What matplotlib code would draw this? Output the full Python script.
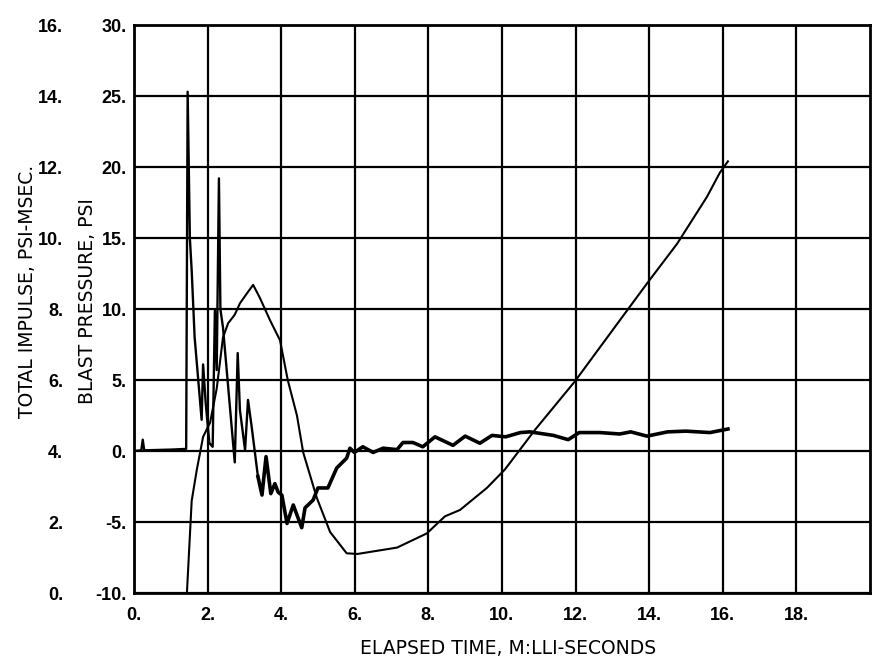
import matplotlib
matplotlib.use('Agg')
import matplotlib.pyplot as plt
from matplotlib.ticker import FixedLocator, FixedFormatter

# blast pressure trace, psi
blast_t = [0.0, 0.2, 0.24, 0.28, 1.0, 1.42, 1.46, 1.52, 1.57, 1.65, 1.84, 1.88, 1.95,
           2.05, 2.14, 2.20, 2.25, 2.31, 2.35, 2.42, 2.74, 2.82, 2.88, 3.02, 3.10, 3.20,
           3.37, 3.48, 3.59, 3.72, 3.83, 3.92, 4.02, 4.16, 4.33, 4.43, 4.56, 4.65, 4.87,
           5.0, 5.27, 5.51, 5.78, 5.87, 5.99, 6.22, 6.5, 6.77, 7.15, 7.31, 7.58, 7.85,
           8.18, 8.67, 9.0, 9.4, 9.73, 10.1, 10.5, 10.76, 11.4, 11.8, 12.1, 12.66, 13.2,
           13.5, 13.94, 14.5, 15.0, 15.65, 16.14]
blast_p = [0.0, 0.05, 0.8, 0.05, 0.1, 0.15, 25.3, 15.0, 12.7, 8.0, 2.2, 6.1, 3.4,
           0.56, 0.3, 9.9, 5.7, 19.2, 10.0, 8.7, -0.8, 6.9, 2.9, 0.07, 3.6, 1.7,
           -1.8, -3.1, -0.4, -3.0, -2.3, -2.9, -3.1, -5.1, -3.8, -4.5, -5.4, -4.0, -3.45,
           -2.6, -2.6, -1.2, -0.5, 0.2, -0.1, 0.3, -0.1, 0.2, 0.1, 0.6, 0.6, 0.3,
           1.0, 0.4, 1.05, 0.55, 1.1, 1.0, 1.3, 1.35, 1.1, 0.8, 1.3, 1.3, 1.2,
           1.35, 1.05, 1.35, 1.4, 1.3, 1.55]

# total impulse, psi-msec
imp_t = [1.44, 1.57, 1.71, 1.88, 2.07, 2.25, 2.42, 2.56, 2.74, 2.88, 3.07, 3.24, 3.42,
         3.70, 3.97, 4.18, 4.43, 4.60, 4.97, 5.33, 5.78, 6.07, 7.15, 7.96, 8.45, 8.86,
         9.59, 10.08, 10.9, 11.98, 13.4, 13.97, 14.76, 15.57, 15.92, 16.14]
imp_i = [0.0, 2.6, 3.48, 4.4, 4.8, 5.76, 7.2, 7.6, 7.84, 8.16, 8.44, 8.68, 8.32,
         7.68, 7.12, 6.0, 5.0, 3.96, 2.68, 1.72, 1.12, 1.1, 1.28, 1.68, 2.16, 2.34,
         2.96, 3.48, 4.6, 5.96, 7.96, 8.76, 9.84, 11.16, 11.84, 12.16]

x_ticks = [0, 2, 4, 6, 8, 10, 12, 14, 16, 18]
p_ticks = [-10, -5, 0, 5, 10, 15, 20, 25, 30]
i_ticks = [0, 2, 4, 6, 8, 10, 12, 14, 16]

fam = ['Liberation Sans', 'DejaVu Sans']
lab_fam = ['DejaVu Sans']
fig = plt.figure(figsize=(8.81, 6.71), dpi=100)
ax = fig.add_axes([0.152, 0.1162, 0.8355, 0.8465])

# spiky front part thin, noisy tail drawn heavier like the trace
k = blast_t.index(3.37)
ax.plot(blast_t[:k + 1], blast_p[:k + 1], color='black', lw=1.7)
ax.plot(blast_t[k:], blast_p[k:], color='black', lw=2.6, solid_joinstyle='round')
ax.set_xlim(0, 20)
ax.set_ylim(-10, 30)
ax.xaxis.set_major_locator(FixedLocator(x_ticks))
ax.xaxis.set_major_formatter(FixedFormatter(['%d.' % v for v in x_ticks]))
ax.yaxis.set_major_locator(FixedLocator(p_ticks))
ax.yaxis.set_major_formatter(FixedFormatter(['%d.' % v for v in p_ticks]))
ax.grid(True, color='black', lw=1.6)
ax.tick_params(which='both', length=0)
ax.tick_params(axis='x', pad=10)
ax.tick_params(axis='y', pad=5)
for s in ax.spines.values():
    s.set_linewidth(2)

# impulse on its own scale, labels on the left
ax2 = ax.twinx()
ax2.plot(imp_t, imp_i, color='black', lw=1.5)
ax2.set_ylim(0, 16)
ax2.yaxis.set_ticks_position('left')
ax2.spines['left'].set_position(('outward', 50))
for s in ax2.spines.values():
    s.set_visible(False)
ax2.yaxis.set_major_locator(FixedLocator(i_ticks))
ax2.yaxis.set_major_formatter(FixedFormatter(['%d.' % v for v in i_ticks]))
ax2.tick_params(length=0, pad=1)

for lab in ax.get_xticklabels() + ax.get_yticklabels() + ax2.get_yticklabels():
    lab.set_fontfamily(fam)
    lab.set_fontweight('bold')
    lab.set_fontsize(13)

fig.text(0.031, 0.566, 'TOTAL IMPULSE, PSI-MSEC.', rotation=90, ha='center', va='center',
         family=lab_fam, fontsize=13.5)
fig.text(0.099, 0.551, 'BLAST PRESSURE, PSI', rotation=90, ha='center', va='center',
         family=lab_fam, fontsize=13.5)
fig.text(0.577, 0.034, 'ELAPSED TIME, M:LLI-SECONDS', ha='center', va='center',
         family=lab_fam, fontsize=13.5)

fig.savefig('out.png', dpi=100)
